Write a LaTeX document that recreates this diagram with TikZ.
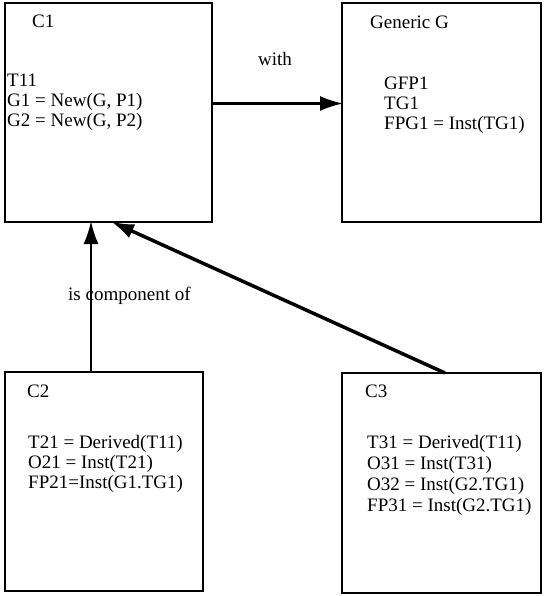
\documentclass[tikz,border=0pt]{standalone}
\usepackage{fontspec}
\setmainfont{Liberation Serif}
\usetikzlibrary{arrows.meta}
\tikzset{
  box/.style={draw, line width=2pt, anchor=north west, inner sep=0pt, outer sep=0pt},
  txt/.style={anchor=base west, inner sep=0pt, font=\fontsize{19}{20}\selectfont},
  conn/.style={line width=2.2pt, -{Latex[length=23pt,width=15pt]}, shorten >=-1pt},
}
\begin{document}
\begin{tikzpicture}[x=1pt, y=-1pt]
\useasboundingbox (0,0) rectangle (544,596);
% boxes
\node[box, minimum width=207pt, minimum height=219pt] (c1) at (5,3) {};
\node[box, minimum width=199pt, minimum height=219pt] (gg) at (342,3) {};
\node[box, minimum width=198pt, minimum height=219pt] (c2) at (5,372) {};
\node[box, minimum width=199pt, minimum height=220pt] (c3) at (342,373) {};
% C1 texts
\node[txt] (c1t) at (32,28) {C1};
\node[txt] (c1a) at (7,87) {T11};
\node[txt] (c1b) at (7,107) {G1 = New(G, P1)};
\node[txt] (c1c) at (7,127) {G2 = New(G, P2)};
% Generic G texts
\node[txt] (ggt) at (370,29) {Generic G};
\node[txt] (gga) at (384,90) {GFP1};
\node[txt] (ggb) at (384,110) {TG1};
\node[txt] (ggc) at (384,130) {FPG1 = Inst(TG1)};
% C2 texts
\node[txt] (c2t) at (27,397) {C2};
\node[txt] (c2a) at (28,448) {T21 = Derived(T11)};
\node[txt] (c2b) at (28,468) {O21 = Inst(T21)};
\node[txt] (c2c) at (28,488) {FP21=Inst(G1.TG1)};
% C3 texts
\node[txt] (c3t) at (365,397) {C3};
\node[txt] (c3a) at (367,448) {T31 = Derived(T11)};
\node[txt] (c3b) at (367,469) {O31 = Inst(T31)};
\node[txt] (c3c) at (367,490) {O32 = Inst(G2.TG1)};
\node[txt] (c3d) at (367,511) {FP31 = Inst(G2.TG1)};
% labels
\node[txt] (lwith) at (258,66) {with};
\node[txt] (lcomp) at (68,300) {is component of};
% connectors
\draw[conn] ([yshift=9pt]c1.east) -- ([yshift=9pt]gg.west);
\draw[conn] ([xshift=86pt]c2.north west) -- ([xshift=86pt]c1.south west);
\draw[conn, line width=3.5pt] ([xshift=103pt]c3.north west) -- ([xshift=107pt]c1.south west);
\end{tikzpicture}
\end{document}
